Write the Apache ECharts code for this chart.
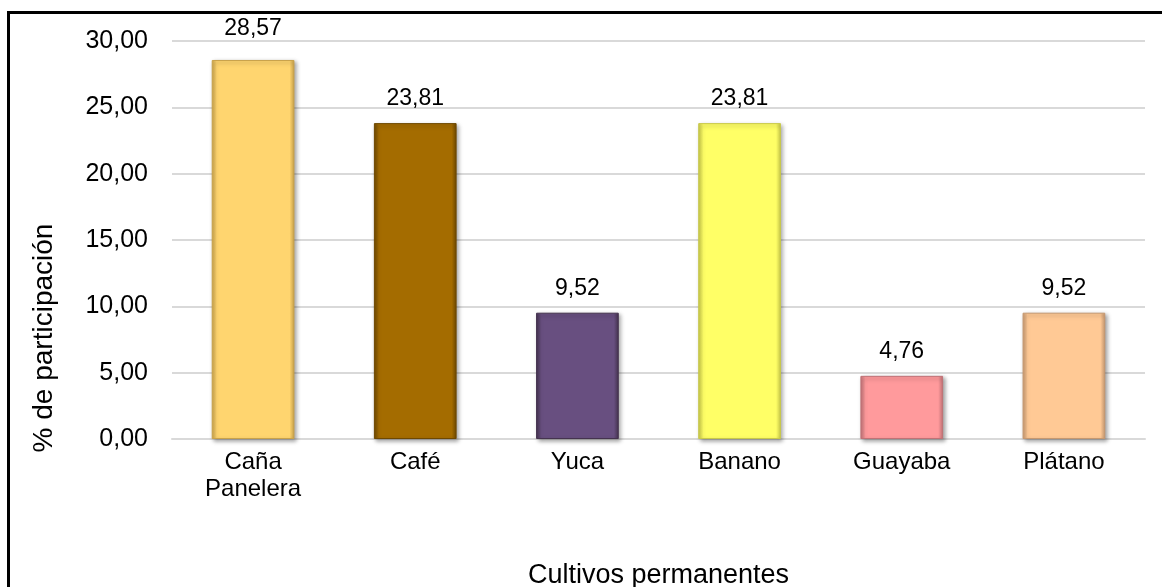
<!DOCTYPE html>
<html>
<head>
<meta charset="utf-8">
<script src="https://cdn.jsdelivr.net/npm/echarts@6/dist/echarts.min.js"></script>
<style>html,body{margin:0;padding:0;background:#fff}#c{width:1162px;height:587px}</style>
</head>
<body>
<div id="c"></div>
<script>
const categories = ['Caña\nPanelera', 'Café', 'Yuca', 'Banano', 'Guayaba', 'Plátano'];
const values = [28.57, 23.81, 9.52, 23.81, 4.76, 9.52];
const barColors = ['#FFD56F', '#A46C00', '#684F80', '#FFFF66', '#FF9A9C', '#FFC995'];
const borderColors = ['#C9A24A', '#6E4800', '#45334F', '#C8C84A', '#C07276', '#C69870'];
const yTicks = [0, 5, 10, 15, 20, 25, 30];

const fmt = v => v.toFixed(2).replace('.', ',');
const FONT = 'Liberation Sans, Arial, sans-serif';

const chart = echarts.init(document.getElementById('c'), null, {renderer: 'canvas'});
chart.setOption({
  animation: false,
  backgroundColor: '#fff',
  grid: {left: 172, right: 17, top: 41, bottom: 148, outerBoundsMode: 'none', containLabel: false},
  xAxis: {
    type: 'category',
    data: categories,
    name: 'Cultivos permanentes',
    nameLocation: 'middle',
    nameGap: 123,
    nameTextStyle: {fontFamily: FONT, fontSize: 27, color: '#000'},
    axisLine: {show: true, lineStyle: {color: '#D9D9D9', width: 2}},
    axisTick: {show: false},
    axisLabel: {fontFamily: FONT, fontSize: 24, color: '#000', margin: 10, lineHeight: 27, interval: 0}
  },
  yAxis: {
    type: 'value',
    min: yTicks[0],
    max: yTicks[yTicks.length - 1],
    interval: 5,
    axisLine: {show: false},
    axisTick: {show: false},
    splitLine: {lineStyle: {color: '#D9D9D9', width: 2}},
    axisLabel: {fontFamily: FONT, fontSize: 25, color: '#000', margin: 24, formatter: v => fmt(v)}
  },
  series: [{
    type: 'bar',
    data: values.map((v, i) => ({
      value: v,
      label: i === 0 ? {distance: 20} : undefined,
      itemStyle: {
        color: {
          type: 'linear', x: 0, y: 0, x2: 1, y2: 0,
          colorStops: [
            {offset: 0, color: borderColors[i]},
            {offset: 0.06, color: barColors[i]},
            {offset: 0.94, color: barColors[i]},
            {offset: 1, color: borderColors[i]}
          ]
        },
        borderColor: borderColors[i],
        borderWidth: 1,
        shadowBlur: 4,
        shadowColor: 'rgba(0,0,0,0.35)',
        shadowOffsetX: 2,
        shadowOffsetY: 2
      }
    })),
    barWidth: '51%',
    label: {
      show: true,
      position: 'top',
      distance: 13,
      fontFamily: FONT,
      fontSize: 23,
      color: '#000',
      formatter: p => fmt(p.value)
    }
  }],
  graphic: [
    {
      type: 'rect',
      shape: {x: 8.5, y: 12.5, width: 1300, height: 800},
      style: {fill: 'none', stroke: '#000', lineWidth: 3},
      silent: true
    },
    {
      type: 'text',
      x: 44, y: 338,
      rotation: Math.PI / 2,
      style: {
        text: '% de participación',
        font: '28px Liberation Sans, Arial, sans-serif',
        fill: '#000',
        textAlign: 'center',
        textVerticalAlign: 'middle'
      }
    }
  ]
});
</script>
</body>
</html>
